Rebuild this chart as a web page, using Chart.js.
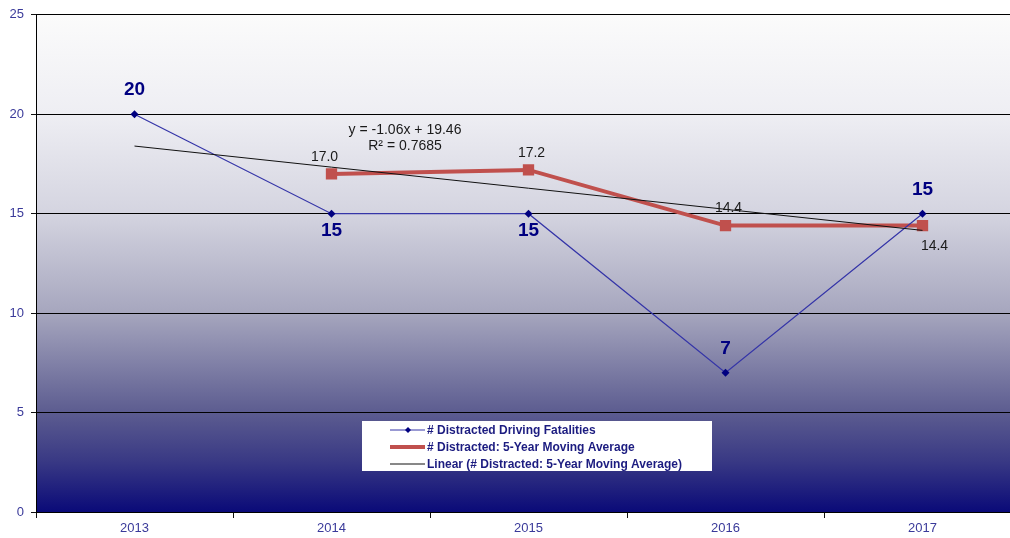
<!DOCTYPE html>
<html>
<head>
<meta charset="utf-8">
<script src="https://cdn.jsdelivr.net/npm/chart.js@4/dist/chart.umd.min.js"></script>
<style>
  html, body { margin: 0; padding: 0; background: #fff; overflow: hidden; }
  #wrap { position: absolute; left: 0; top: 0; width: 1030px; height: 538px; }
</style>
</head>
<body>
<div id="wrap"><canvas id="chart" width="1030" height="538"></canvas></div>
<script>
// Chart data
const years = ['2013', '2014', '2015', '2016', '2017'];
const fatalities = [20, 15, 15, 7, 15];
const movingAvg = [null, 17.0, 17.2, 14.4, 14.4];
const trendLine = [18.40, 17.34, 16.28, 15.22, 14.16];
const trendText = ['y = -1.06x + 19.46', 'R\u00b2 = 0.7685'];
const yTicks = [0, 5, 10, 15, 20, 25];

// where each value label sits relative to its point
const fatalityLabelPos = ['above', 'below', 'below', 'above', 'above'];
const avgLabelPos = [null, 'above', 'above', 'above', 'below'];

const FONT = '"Liberation Sans", Arial, sans-serif';
const NAVY = '#000080';
const RED = '#c0504d';

// Gradient fill behind the plot area (white at top to navy at bottom)
const plotBackground = {
    id: 'plotBackground',
    beforeDraw(chart) {
        const { ctx, chartArea: a } = chart;
        const g = ctx.createLinearGradient(0, a.top, 0, a.bottom);
        g.addColorStop(0.00, '#fbfbfb');
        g.addColorStop(0.20, '#eeeef3');
        g.addColorStop(0.40, '#d4d4e0');
        g.addColorStop(0.60, '#a6a6be');
        g.addColorStop(0.80, '#5c5c90');
        g.addColorStop(0.90, '#383884');
        g.addColorStop(1.00, '#0a0a78');
        ctx.save();
        ctx.fillStyle = g;
        ctx.fillRect(a.left, a.top, a.right - a.left, a.bottom - a.top);
        ctx.restore();
    }
};

// Value labels, trend equation and the boxed legend
const annotations = {
    id: 'annotations',
    afterDatasetsDraw(chart) {
        const { ctx, chartArea: a } = chart;
        ctx.save();
        ctx.textAlign = 'center';
        ctx.textBaseline = 'middle';

        // fatalities: bold navy numbers
        ctx.font = 'bold 19px ' + FONT;
        ctx.fillStyle = NAVY;
        chart.getDatasetMeta(0).data.forEach((pt, i) => {
            const dy = fatalityLabelPos[i] === 'above' ? -24 : 17;
            ctx.fillText(String(fatalities[i]), pt.x, pt.y + dy);
        });

        // moving average: plain dark numbers
        ctx.font = '14px ' + FONT;
        ctx.fillStyle = '#1a1a1a';
        chart.getDatasetMeta(1).data.forEach((pt, i) => {
            if (movingAvg[i] == null) return;
            const dy = avgLabelPos[i] === 'above' ? -17 : 21;
            const dx = avgLabelPos[i] === 'below' ? 12 : (i === 1 ? -7 : 3);
            ctx.fillText(movingAvg[i].toFixed(1), pt.x + dx, pt.y + dy);
        });

        // trend equation
        ctx.fillText(trendText[0], a.left + 369, 130);
        ctx.fillText(trendText[1], a.left + 369, 146);

        // legend box
        const bx = 362, by = 421, bw = 350, bh = 50;
        ctx.fillStyle = '#ffffff';
        ctx.fillRect(bx, by, bw, bh);
        ctx.textAlign = 'left';
        ctx.font = 'bold 12px ' + FONT;
        const rows = chart.data.datasets.map(d => d.label);
        rows.forEach((label, i) => {
            const ds = chart.data.datasets[i];
            const y = by + 9 + i * 17;
            ctx.strokeStyle = ds.borderColor;
            ctx.lineWidth = i === 1 ? 4 : 1;
            ctx.beginPath();
            ctx.moveTo(bx + 28, y);
            ctx.lineTo(bx + 63, y);
            ctx.stroke();
            if (i === 0) {
                ctx.fillStyle = NAVY;
                ctx.beginPath();
                ctx.moveTo(bx + 46, y - 3);
                ctx.lineTo(bx + 49, y);
                ctx.lineTo(bx + 46, y + 3);
                ctx.lineTo(bx + 43, y);
                ctx.closePath();
                ctx.fill();
            }
            ctx.fillStyle = '#1c1c80';
            ctx.fillText(label, bx + 65, y + 1);
        });
        ctx.restore();
    }
};

new Chart(document.getElementById('chart'), {
    type: 'line',
    data: {
        labels: years,
        datasets: [
            {
                label: '# Distracted Driving Fatalities',
                data: fatalities,
                borderColor: '#3535a8',
                borderWidth: 1.2,
                pointStyle: 'rectRot',
                pointRadius: 4,
                pointBackgroundColor: NAVY,
                pointBorderColor: NAVY,
                pointBorderWidth: 0,
                order: 1
            },
            {
                label: '# Distracted: 5-Year Moving Average',
                data: movingAvg,
                borderColor: RED,
                borderWidth: 4,
                pointStyle: 'rect',
                pointRadius: 8,
                pointBackgroundColor: RED,
                pointBorderColor: RED,
                pointBorderWidth: 0,
                order: 2
            },
            {
                label: 'Linear (# Distracted: 5-Year Moving Average)',
                data: trendLine,
                borderColor: '#111111',
                borderWidth: 1,
                pointRadius: 0,
                order: 0
            }
        ]
    },
    options: {
        responsive: false,
        animation: false,
        events: [],
        layout: { padding: { top: 13, right: 9, left: 0, bottom: 0 } },
        plugins: { legend: { display: false }, tooltip: { enabled: false } },
        scales: {
            x: {
                offset: true,
                grid: {
                    offset: true,
                    drawOnChartArea: false,
                    color: '#111',
                    tickLength: 6,
                    tickColor: '#111'
                },
                border: { color: '#000', width: 1 },
                ticks: { color: '#3a3a9a', font: { family: FONT, size: 13 }, padding: 3 },
                afterFit: s => { s.height = 26; }
            },
            y: {
                min: 0,
                max: 25,
                afterBuildTicks: s => { s.ticks = yTicks.map(v => ({ value: v })); },
                grid: { color: '#000', lineWidth: 1, tickLength: 5, tickColor: '#111' },
                border: { color: '#000', width: 1 },
                ticks: { color: '#3a3a9a', font: { family: FONT, size: 13 }, padding: 7 },
                afterFit: s => { s.width = 36; }
            }
        }
    },
    plugins: [plotBackground, annotations]
});
</script>
</body>
</html>
